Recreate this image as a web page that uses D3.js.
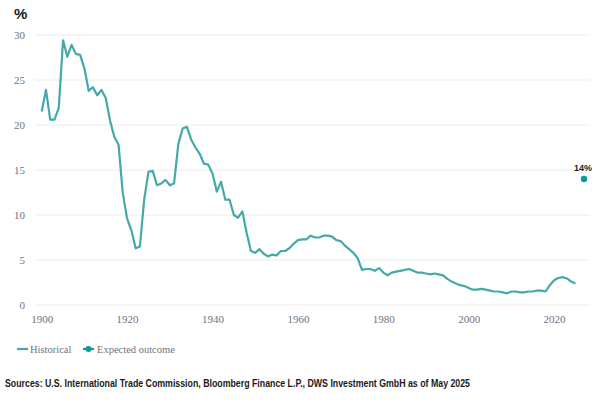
<!DOCTYPE html>
<html>
<head>
<meta charset="utf-8">
<script src="https://cdn.jsdelivr.net/npm/d3@7"></script>
<style>
  body { margin: 0; background: #fff; }
</style>
</head>
<body>
<div id="container"></div>
<script>
let w = 605;
let h = 407;

// DATA
let startYear = 1900;
let tariffRate = [
  21.5, 23.9, 20.6, 20.6, 21.9, 29.4, 27.6, 28.9, 27.9, 27.8, // 1900s
  26.3, 23.8, 24.2, 23.3, 23.9, 23.0, 20.5, 18.7, 17.8, 12.4, // 1910s
  9.6, 8.3, 6.3, 6.5, 11.7, 14.8, 14.9, 13.3, 13.5, 13.9,    // 1920s
  13.3, 13.5, 17.9, 19.6, 19.8, 18.4, 17.5, 16.8, 15.7, 15.6, // 1930s
  14.6, 12.6, 13.7, 11.7, 11.7, 10.0, 9.7, 10.4, 8.0, 6.0,    // 1940s
  5.8, 6.2, 5.7, 5.4, 5.6, 5.5, 6.0, 6.0, 6.3, 6.8,           // 1950s
  7.2, 7.3, 7.3, 7.7, 7.5, 7.5, 7.7, 7.7, 7.6, 7.2,           // 1960s
  7.1, 6.6, 6.2, 5.8, 5.2, 3.9, 4.0, 4.0, 3.8, 4.1,           // 1970s
  3.6, 3.3, 3.6, 3.7, 3.8, 3.9, 4.0, 3.8, 3.6, 3.6,           // 1980s
  3.5, 3.4, 3.5, 3.4, 3.3, 2.9, 2.6, 2.4, 2.2, 2.1,           // 1990s
  1.9, 1.7, 1.7, 1.8, 1.7, 1.6, 1.5, 1.5, 1.4, 1.3,           // 2000s
  1.5, 1.5, 1.4, 1.4, 1.5, 1.5, 1.6, 1.6, 1.5, 2.2,           // 2010s
  2.75, 3.0, 3.1, 2.95, 2.6, 2.4                              // 2020s
];
let expectedYear = 2027;
let expectedValue = 14;

let xTicks = [1900, 1920, 1940, 1960, 1980, 2000, 2020];
let yTicks = [0, 5, 10, 15, 20, 25, 30];

let historical = tariffRate.map((v, i) => {
  return { year: startYear + i, value: v };
});

let lineColor = "#45a9a9";
let dotColor = "#0e9a9c";
let tickColor = "#6b7480";
let serif = "'Liberation Serif', 'DejaVu Serif', serif";
let sans = "'Liberation Sans', Arial, sans-serif";

// SVG
let viz = d3.select("#container").append("svg")
    .attr("width", w)
    .attr("height", h)
    .style("font-family", serif)
;

// SCALES
let xScale = d3.scaleLinear().domain([1900, 2020]).range([41.7, 554.1]);
let yScale = d3.scaleLinear().domain([0, 30]).range([305, 35]);

// GRIDLINES
viz.append("g").selectAll("line").data(yTicks).enter()
  .append("line")
    .attr("x1", 35)
    .attr("x2", 590)
    .attr("y1", d => yScale(d))
    .attr("y2", d => yScale(d))
    .attr("stroke", "#ececec")
    .attr("stroke-width", 1)
;

// Y AXIS
let yAxis = d3.axisLeft(yScale).tickValues(yTicks).tickSize(0).tickPadding(0);
let yG = viz.append("g").attr("transform", "translate(25,0)").call(yAxis)
    .attr("font-family", serif).attr("font-size", 11);
yG.select(".domain").remove();
yG.selectAll("text")
    .attr("fill", tickColor)
;

// X AXIS
let xAxis = d3.axisBottom(xScale).tickValues(xTicks).tickFormat(d3.format("d")).tickSize(0).tickPadding(0);
let xG = viz.append("g").attr("transform", "translate(0,315)").call(xAxis)
    .attr("font-family", serif).attr("font-size", 11);
xG.select(".domain").remove();
xG.selectAll("text")
    .attr("fill", tickColor)
;

// % LABEL
viz.append("text")
    .attr("x", 14)
    .attr("y", 19)
    .attr("font-size", 15)
    .attr("font-weight", "bold")
    .attr("fill", "#1a1a1a")
    .style("font-family", sans)
    .text("%")
;

// HISTORICAL LINE
let lineMaker = d3.line()
    .x(d => xScale(d.year))
    .y(d => yScale(d.value));

viz.append("path")
    .datum(historical)
    .attr("d", lineMaker)
    .attr("fill", "none")
    .attr("stroke", lineColor)
    .attr("stroke-width", 2.2)
    .attr("stroke-linejoin", "round")
;

// EXPECTED OUTCOME
viz.append("circle")
    .attr("cx", xScale(expectedYear))
    .attr("cy", yScale(expectedValue))
    .attr("r", 3.2)
    .attr("fill", dotColor)
;
viz.append("text")
    .attr("x", xScale(expectedYear) - 1)
    .attr("y", yScale(expectedValue) - 8)
    .attr("text-anchor", "middle")
    .attr("font-size", 9)
    .attr("font-weight", "bold")
    .attr("fill", "#1a1a1a")
    .style("font-family", sans)
    .text(expectedValue + "%")
;

// LEGEND
let legend = viz.append("g").attr("transform", "translate(0,349)");
legend.append("line")
    .attr("x1", 17).attr("x2", 28)
    .attr("y1", 0).attr("y2", 0)
    .attr("stroke", lineColor)
    .attr("stroke-width", 2.2)
;
legend.append("text")
    .attr("x", 30)
    .attr("y", 4)
    .attr("font-size", 10.5)
    .attr("fill", tickColor)
    .text("Historical")
;
legend.append("line")
    .attr("x1", 83).attr("x2", 94)
    .attr("y1", 0).attr("y2", 0)
    .attr("stroke", dotColor)
    .attr("stroke-width", 2.2)
;
legend.append("circle")
    .attr("cx", 88.5).attr("cy", 0)
    .attr("r", 3)
    .attr("fill", dotColor)
;
legend.append("text")
    .attr("x", 97)
    .attr("y", 4)
    .attr("font-size", 10.5)
    .attr("fill", tickColor)
    .text("Expected outcome")
;

// SOURCES
viz.append("text")
    .attr("x", 5)
    .attr("y", 387)
    .attr("font-size", 10.5)
    .attr("font-weight", "bold")
    .attr("fill", "#1a1a1a")
    .attr("textLength", 465)
    .attr("lengthAdjust", "spacingAndGlyphs")
    .style("font-family", sans)
    .text("Sources: U.S. International Trade Commission, Bloomberg Finance L.P., DWS Investment GmbH as of May 2025")
;
</script>
</body>
</html>
